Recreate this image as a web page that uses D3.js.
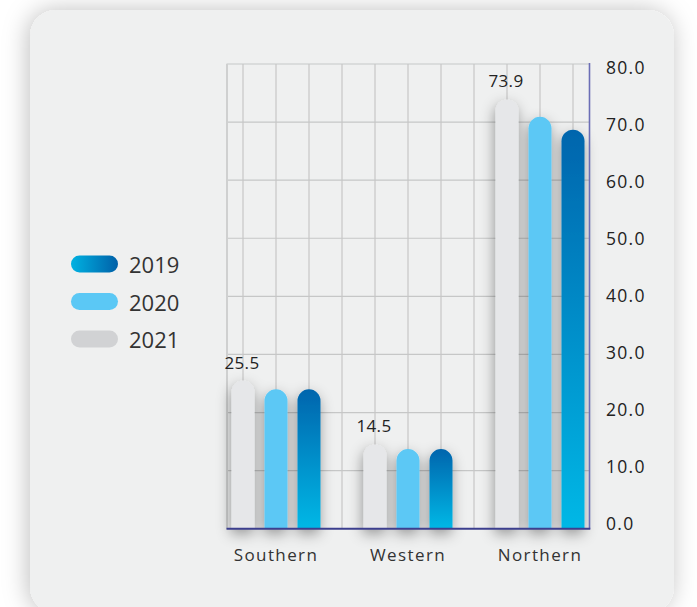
<!DOCTYPE html>
<html>
<head>
<meta charset="utf-8">
<script src="https://cdn.jsdelivr.net/npm/d3@7/dist/d3.min.js"></script>
<style>
  html, body { margin: 0; padding: 0; background: #ffffff; }
  svg { display: block; font-family: "Open Sans", sans-serif; }
</style>
</head>
<body>
<svg id="chart" width="697" height="607"></svg>
<script>
// Regions and yearly series (values per region)
const categories = ["Southern", "Western", "Northern"];
const seriesNames = ["2021", "2020", "2019"];           // bar order inside each group
const values2021 = [25.5, 14.5, 73.9];
const values2020 = [24.0, 13.7, 70.9];
const values2019 = [24.0, 13.7, 68.7];
const legendOrder = ["2019", "2020", "2021"];
const yTicks = [0, 10, 20, 30, 40, 50, 60, 70, 80];
const labelledSeries = "2021";                          // series that carries value labels

const seriesValues = { "2021": values2021, "2020": values2020, "2019": values2019 };

const svg = d3.select("#chart");
const defs = svg.append("defs");

// Card shadow
const cardShadow = defs.append("filter").attr("id", "cardShadow")
  .attr("x", "-10%").attr("y", "-10%").attr("width", "120%").attr("height", "120%");
cardShadow.append("feDropShadow").attr("dx", -2).attr("dy", 0)
  .attr("stdDeviation", 12).attr("flood-color", "#000").attr("flood-opacity", 0.25);

// Bar shadow
const barShadow = defs.append("filter").attr("id", "barShadow")
  .attr("x", "-60%").attr("y", "-20%").attr("width", "220%").attr("height", "140%");
barShadow.append("feDropShadow").attr("dx", -1).attr("dy", 5)
  .attr("stdDeviation", 7).attr("flood-color", "#000").attr("flood-opacity", 0.38);

// Gradients
const gBar = defs.append("linearGradient").attr("id", "grad2019bar")
  .attr("x1", 0).attr("y1", 0).attr("x2", 0).attr("y2", 1);
gBar.append("stop").attr("offset", "0%").attr("stop-color", "#0065ad");
gBar.append("stop").attr("offset", "100%").attr("stop-color", "#00b8e6");

const gLeg = defs.append("linearGradient").attr("id", "grad2019leg")
  .attr("x1", 0).attr("y1", 0).attr("x2", 1).attr("y2", 0);
gLeg.append("stop").attr("offset", "0%").attr("stop-color", "#00b2e2");
gLeg.append("stop").attr("offset", "100%").attr("stop-color", "#0060a8");

const barFill = { "2021": "#e6e7e9", "2020": "#5bc8f5", "2019": "url(#grad2019bar)" };
const legendFill = { "2019": "url(#grad2019leg)", "2020": "#5bc8f5", "2021": "#d1d2d4" };

// Card
svg.append("rect")
  .attr("x", 30).attr("y", 10).attr("width", 644).attr("height", 603)
  .attr("rx", 26).attr("ry", 26)
  .attr("fill", "#eff0f0")
  .attr("filter", "url(#cardShadow)");

// Scales
const plotLeft = 226.5, slot = 33, plotTop = 64, plotBottom = 528.7;
const plotRight = plotLeft + 11 * slot;

const y = d3.scaleLinear().domain([0, 80]).range([plotBottom, plotTop]);
// tick labels sit on a slightly tighter track than the grid
const yLabel = d3.scaleLinear().domain([0, 80]).range([plotBottom - 6, plotTop + 2.7]);
const x0 = d3.scaleBand().domain(categories)
  .range([plotLeft, plotLeft + categories.length * 4 * slot]).padding(0);
const x1 = d3.scaleBand().domain(seriesNames.concat(["gap"]))
  .range([0, x0.bandwidth()]).padding(0);

// Grid
const grid = svg.append("g").attr("class", "grid");
grid.selectAll("line.h").data(yTicks.filter(t => t > 0)).join("line")
  .attr("class", "h")
  .attr("x1", plotLeft).attr("x2", plotRight)
  .attr("y1", d => y(d)).attr("y2", d => y(d))
  .attr("stroke", "#c6c7c7").attr("stroke-width", 1.2);

const vLines = [];
categories.forEach(c => x1.domain().forEach(s => {
  const cx = x0(c) + x1(s) + x1.bandwidth() / 2;
  if (cx < plotRight) vLines.push(cx);
}));
grid.selectAll("line.v").data(vLines).join("line")
  .attr("class", "v")
  .attr("x1", d => d).attr("x2", d => d)
  .attr("y1", plotTop).attr("y2", plotBottom)
  .attr("stroke", "#c6c7c7").attr("stroke-width", 1.2);

grid.append("line")
  .attr("x1", plotLeft + 0.5).attr("x2", plotLeft + 0.5)
  .attr("y1", plotTop).attr("y2", plotBottom)
  .attr("stroke", "#cfd0d0").attr("stroke-width", 2);

// Bars
const barW = 23;
const barData = [];
categories.forEach((c, i) => seriesNames.forEach(s => {
  barData.push({ c, s, v: seriesValues[s][i] });
}));

function barPath(d) {
  const cx = x0(d.c) + x1(d.s) + x1.bandwidth() / 2;
  const r = barW / 2;
  const left = cx - r, right = cx + r;
  const top = y(d.v), bottom = y(0);
  return `M${left},${bottom}L${left},${top + r}A${r},${r} 0 0 1 ${right},${top + r}L${right},${bottom}Z`;
}

svg.append("g").attr("class", "bars").attr("filter", "url(#barShadow)")
  .selectAll("path").data(barData).join("path")
  .attr("d", barPath)
  .attr("fill", d => barFill[d.s]);

// Axes lines
svg.append("line")
  .attr("x1", plotRight).attr("x2", plotRight)
  .attr("y1", plotTop - 1).attr("y2", plotBottom)
  .attr("stroke", "#6b6eb6").attr("stroke-width", 1.6);
svg.append("line")
  .attr("x1", plotLeft).attr("x2", plotRight + 0.8)
  .attr("y1", plotBottom).attr("y2", plotBottom)
  .attr("stroke", "#3c3f8e").attr("stroke-width", 2);

// Right tick labels
svg.append("g").selectAll("text").data(yTicks).join("text")
  .attr("x", 606).attr("y", d => yLabel(d))
  .attr("dominant-baseline", "central")
  .attr("font-size", 17.5).attr("letter-spacing", 1.3)
  .attr("fill", "#222")
  .text(d => d3.format(".1f")(d));

// Category labels
svg.append("g").selectAll("text").data(categories).join("text")
  .attr("x", c => x0(c) + x1(seriesNames[1]) + x1.bandwidth() / 2)
  .attr("y", 561)
  .attr("text-anchor", "middle")
  .attr("font-size", 17).attr("letter-spacing", 1.4)
  .attr("fill", "#333")
  .text(c => c);

// Value labels
svg.append("g").selectAll("text")
  .data(barData.filter(d => d.s === labelledSeries)).join("text")
  .attr("x", d => x0(d.c) + x1(d.s) + x1.bandwidth() / 2 - 1)
  .attr("y", d => y(d.v) - 12)
  .attr("text-anchor", "middle")
  .attr("font-size", 17).attr("letter-spacing", 0.3)
  .attr("fill", "#222")
  .text(d => d3.format(".1f")(d.v));

// Legend
const legend = svg.append("g").selectAll("g").data(legendOrder).join("g")
  .attr("transform", (d, i) => `translate(71, ${264 + i * 37.5})`);
legend.append("rect")
  .attr("x", 0).attr("y", -8.5).attr("width", 47).attr("height", 17)
  .attr("rx", 8.5).attr("ry", 8.5)
  .attr("fill", d => legendFill[d]);
legend.append("text")
  .attr("x", 58).attr("y", 0)
  .attr("dominant-baseline", "central")
  .attr("font-size", 22).attr("fill", "#333")
  .text(d => d);
</script>
</body>
</html>
